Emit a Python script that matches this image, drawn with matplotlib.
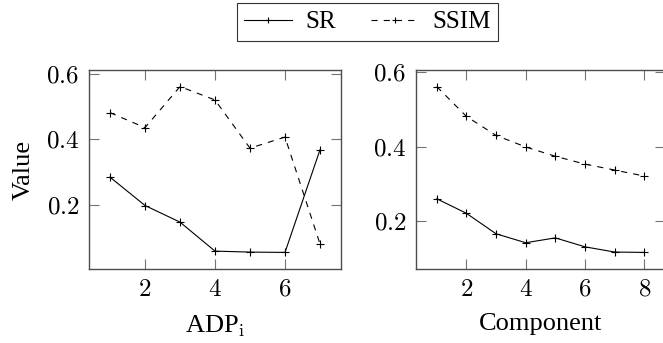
import numpy as np
import matplotlib.pyplot as plt
from matplotlib.ticker import FixedLocator, FuncFormatter

plt.rcParams['font.family'] = ['Liberation Serif', 'DejaVu Serif']
plt.rcParams['mathtext.fontset'] = 'cm'

# dane - lewy panel (ADP_i)
adp_x = [1, 2, 3, 4, 5, 6, 7]
adp_sr = [0.284, 0.197, 0.146, 0.057, 0.054, 0.053, 0.368]
adp_ssim = [0.482, 0.436, 0.562, 0.521, 0.373, 0.407, 0.079]

# dane - prawy panel (Component)
comp_x = [1, 2, 3, 4, 5, 6, 7, 8]
comp_sr = [0.261, 0.222, 0.167, 0.143, 0.156, 0.132, 0.118, 0.117]
comp_ssim = [0.562, 0.482, 0.431, 0.400, 0.375, 0.354, 0.338, 0.322]

left_xticks = [2, 4, 6]
right_xticks = [2, 4, 6, 8]
yticks = [0.2, 0.4, 0.6]

fig = plt.figure(figsize=(6.63, 3.43), dpi=100)
ax1 = fig.add_axes([89 / 663, 1 - 269 / 343, 252 / 663, 199 / 343])
ax2 = fig.add_axes([416 / 663, 1 - 269 / 343, 249 / 663, 199 / 343])


def rysuj(ax, x, sr, ssim, xticks, xlabel):
    l1, = ax.plot(x, sr, color='black', lw=0.8, marker='+', ms=6, mew=0.8, label='SR')
    l2, = ax.plot(x, ssim, color='black', lw=0.8, ls=(0, (5.5, 5.5)), marker='+', ms=6,
                  mew=0.8, label='SSIM')
    ax.margins(x=0.1, y=0.1)
    ax.xaxis.set_major_locator(FixedLocator(xticks))
    ax.yaxis.set_major_locator(FixedLocator(yticks))
    fmt = FuncFormatter(lambda v, p: '$%g$' % v)
    ax.xaxis.set_major_formatter(fmt)
    ax.yaxis.set_major_formatter(fmt)
    ax.tick_params(direction='in', top=True, right=True, length=7.5, width=0.8,
                   color='0.45', labelsize=18, pad=7)
    for s in ax.spines.values():
        s.set_color('0.3')
        s.set_linewidth(1.0)
    ax.set_xlabel(xlabel, fontsize=19, labelpad=9)
    return l1, l2


h1, h2 = rysuj(ax1, adp_x, adp_sr, adp_ssim, left_xticks, r'ADP$_\mathrm{i}$')
rysuj(ax2, comp_x, comp_sr, comp_ssim, right_xticks, 'Component')
ax1.set_ylabel('Value', fontsize=19, labelpad=8)

leg = fig.legend([h1, h2], ['SR', 'SSIM'], loc='center', ncol=2,
                 bbox_to_anchor=(367.5 / 663, 1 - 22 / 343), fontsize=18,
                 frameon=True, fancybox=False, edgecolor='black',
                 handlelength=1.9, columnspacing=1.4, borderpad=0.3,
                 handletextpad=0.55, markerscale=0.8, borderaxespad=0)
leg.get_frame().set_linewidth(0.8)

plt.savefig('out.png', dpi=100)
